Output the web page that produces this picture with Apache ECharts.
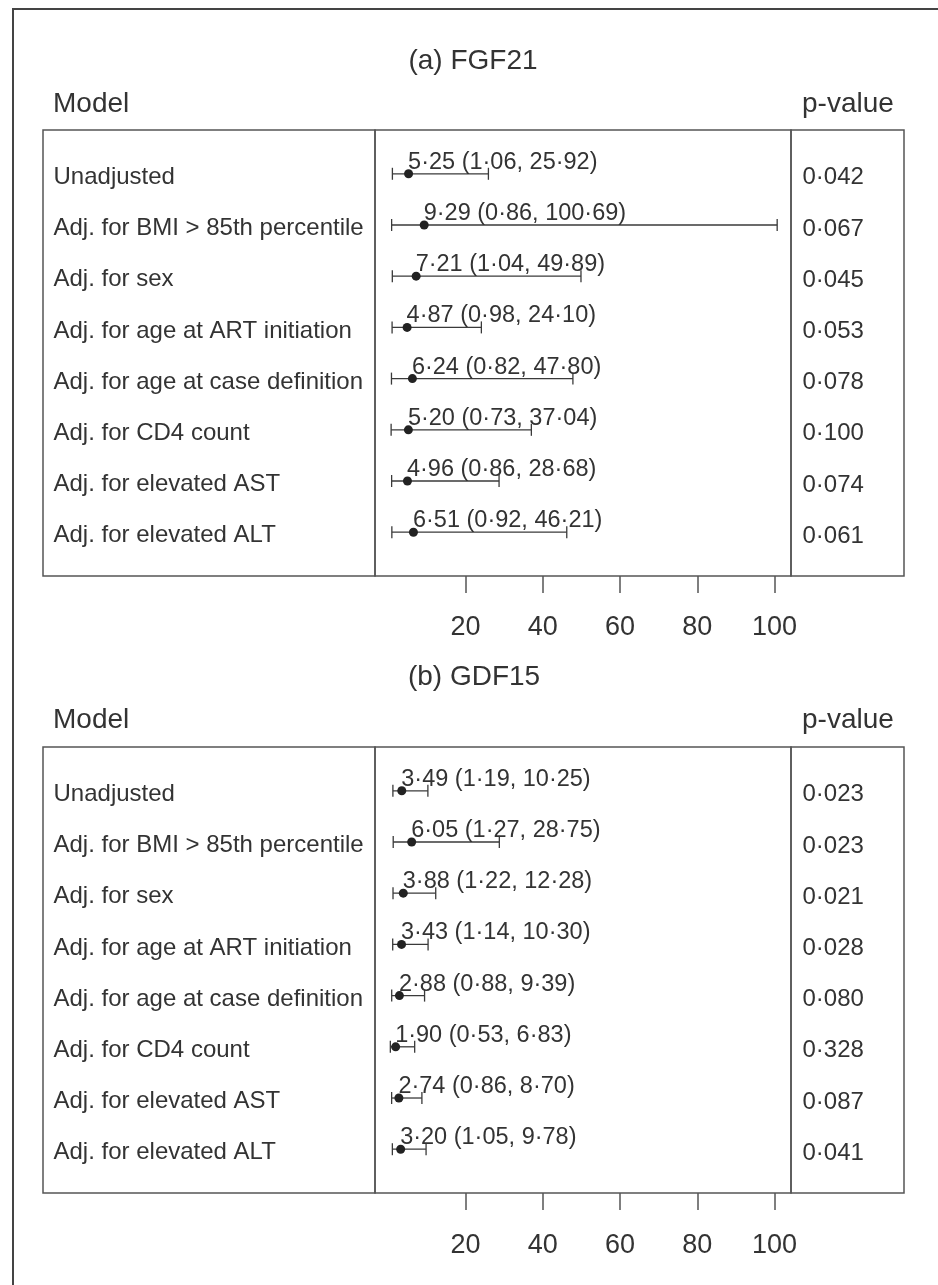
<!DOCTYPE html>
<html>
<head>
<meta charset="utf-8">
<script src="https://cdn.jsdelivr.net/npm/echarts@6/dist/echarts.min.js"></script>
<style>html,body{margin:0;padding:0;background:#fff;}#c{width:938px;height:1285px;}</style>
</head>
<body>
<div id="c"></div>
<script>
// ---- data ----
const models = ["Unadjusted","Adj. for BMI > 85th percentile","Adj. for sex","Adj. for age at ART initiation","Adj. for age at case definition","Adj. for CD4 count","Adj. for elevated AST","Adj. for elevated ALT"];
const fgfEst  = [5.25, 9.29, 7.21, 4.87, 6.24, 5.20, 4.96, 6.51];
const fgfLow  = [1.06, 0.86, 1.04, 0.98, 0.82, 0.73, 0.86, 0.92];
const fgfHigh = [25.92, 100.69, 49.89, 24.10, 47.80, 37.04, 28.68, 46.21];
const fgfP    = ["0·042","0·067","0·045","0·053","0·078","0·100","0·074","0·061"];
const gdfEst  = [3.49, 6.05, 3.88, 3.43, 2.88, 1.90, 2.74, 3.20];
const gdfLow  = [1.19, 1.27, 1.22, 1.14, 0.88, 0.53, 0.86, 1.05];
const gdfHigh = [10.25, 28.75, 12.28, 10.30, 9.39, 6.83, 8.70, 9.78];
const gdfP    = ["0·023","0·023","0·021","0·028","0·080","0·328","0·087","0·041"];
const tickValues = [20, 40, 60, 80, 100];
const panelTitles = ["(a) FGF21", "(b) GDF15"];

const FONT = '"Liberation Sans", Arial, Helvetica, sans-serif';
const TXT = '#333';
const LINE = '#555';
const fmt = v => v.toFixed(2).replace('.', '·');

const chart = echarts.init(document.getElementById('c'), null, {renderer: 'canvas'});

const grids = [], xAxes = [], yAxes = [], series = [];
const XMIN = -3.444, XMAX = 104.27;

function addPanel(p, top, est, low, high, pv, tickMargin) {
  const H = 446;
  const g0 = grids.length;
  grids.push({left: 43, top: top, width: 332, height: H, show: true, borderColor: LINE, borderWidth: 1.5, backgroundColor: 'transparent'});
  grids.push({left: 375, top: top, width: 416, height: H, show: true, borderColor: LINE, borderWidth: 1.5, backgroundColor: 'transparent'});
  grids.push({left: 791, top: top, width: 113, height: H, show: true, borderColor: LINE, borderWidth: 1.5, backgroundColor: 'transparent'});
  for (let k = 0; k < 3; k++) {
    yAxes.push({gridIndex: g0 + k, type: 'value', inverse: true, min: 0.145, max: 8.855, show: false});
  }
  xAxes.push({gridIndex: g0, type: 'value', min: 0, max: 1, show: false});
  xAxes.push({
    gridIndex: g0 + 1, type: 'value', min: XMIN, max: XMAX,
    axisLine: {show: false},
    splitLine: {show: false},
    axisTick: {show: true, customValues: tickValues, length: 17, lineStyle: {color: LINE, width: 1.5}},
    axisLabel: {show: true, customValues: tickValues, fontSize: 27, color: TXT, fontFamily: FONT, margin: tickMargin}
  });
  xAxes.push({gridIndex: g0 + 2, type: 'value', min: 0, max: 1, show: false});

  // model labels
  series.push({
    type: 'scatter', xAxisIndex: g0, yAxisIndex: g0, silent: true,
    symbolSize: 1, itemStyle: {color: 'rgba(0,0,0,0)', opacity: 1},
    data: models.map((m, i) => [0, i + 1]),
    label: {show: true, opacity: 1, position: 'right', distance: 10, offset: [0, 3.5],
      formatter: q => models[q.dataIndex], fontSize: 24, color: TXT, fontFamily: FONT}
  });
  // CI lines
  series.push({
    type: 'custom', xAxisIndex: g0 + 1, yAxisIndex: g0 + 1, silent: true, z: 2,
    data: low.map((l, i) => [l, high[i], i + 1]),
    encode: {x: [0, 1], y: 2},
    renderItem: function (params, api) {
      const y = api.value(2);
      const a = api.coord([api.value(0), y]);
      const b = api.coord([api.value(1), y]);
      const st = {stroke: '#3a3a3a', lineWidth: 1.3};
      return {type: 'group', children: [
        {type: 'line', shape: {x1: a[0], y1: a[1], x2: b[0], y2: b[1]}, style: st},
        {type: 'line', shape: {x1: a[0], y1: a[1] - 6, x2: a[0], y2: a[1] + 6}, style: st},
        {type: 'line', shape: {x1: b[0], y1: b[1] - 6, x2: b[0], y2: b[1] + 6}, style: st}
      ]};
    }
  });
  // point estimates
  series.push({
    type: 'scatter', xAxisIndex: g0 + 1, yAxisIndex: g0 + 1, silent: true, z: 3,
    symbol: 'circle', symbolSize: 9, itemStyle: {color: '#222', opacity: 1},
    data: est.map((v, i) => [v, i + 1]),
    label: {show: true, opacity: 1, position: [4, -7], align: 'left', verticalAlign: 'middle',
      formatter: q => fmt(est[q.dataIndex]) + ' (' + fmt(low[q.dataIndex]) + ', ' + fmt(high[q.dataIndex]) + ')',
      fontSize: 23.5, color: TXT, fontFamily: FONT}
  });
  // p-values
  series.push({
    type: 'scatter', xAxisIndex: g0 + 2, yAxisIndex: g0 + 2, silent: true,
    symbolSize: 1, itemStyle: {color: 'rgba(0,0,0,0)', opacity: 1},
    data: pv.map((m, i) => [0, i + 1]),
    label: {show: true, opacity: 1, position: 'right', distance: 11, offset: [0, 4],
      formatter: q => pv[q.dataIndex], fontSize: 24, color: TXT, fontFamily: FONT}
  });
}

addPanel(0, 130, fgfEst, fgfLow, fgfHigh, fgfP, 38);
addPanel(1, 747, gdfEst, gdfLow, gdfHigh, gdfP, 39);

function txt(x, y, s, size, align) {
  return {type: 'text', x: x, y: y, silent: true,
    style: {text: s, fontSize: size, fill: TXT, fontFamily: FONT, align: align || 'left', verticalAlign: 'middle'}};
}

const graphic = [
  {type: 'polyline', silent: true, shape: {points: [[13, 1285], [13, 9], [938, 9]]}, style: {stroke: '#444', lineWidth: 2, fill: null}},
  txt(473, 61, panelTitles[0], 28, 'center'),
  txt(53, 104, 'Model', 28),
  txt(802, 104, 'p-value', 28),
  txt(474, 677, panelTitles[1], 28, 'center'),
  txt(53, 720.5, 'Model', 28),
  txt(802, 720.5, 'p-value', 28)
];

chart.setOption({
  animation: false,
  backgroundColor: '#fff',
  grid: grids, xAxis: xAxes, yAxis: yAxes, series: series, graphic: graphic
});
</script>
</body>
</html>
